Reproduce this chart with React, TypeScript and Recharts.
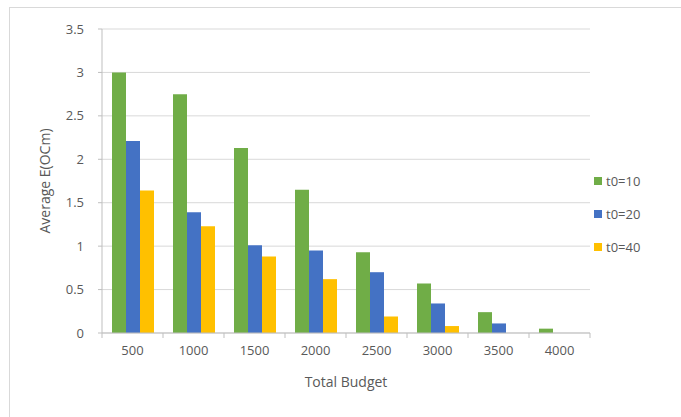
import { BarChart, Bar, XAxis, YAxis, CartesianGrid, Label } from 'recharts';

const budgets = ['500', '1000', '1500', '2000', '2500', '3000', '3500', '4000'];
const t10 = [3.0, 2.75, 2.13, 1.65, 0.93, 0.57, 0.24, 0.05];
const t20 = [2.21, 1.39, 1.01, 0.95, 0.7, 0.34, 0.11, 0];
const t40 = [1.64, 1.23, 0.88, 0.62, 0.19, 0.08, 0, 0];
const yTicks = [0, 0.5, 1, 1.5, 2, 2.5, 3, 3.5];

const seriesNames = ['t0=10', 't0=20', 't0=40'];
const colors = ['#70AD47', '#4472C4', '#FFC000'];

const data = budgets.map((b, i) => ({ budget: b, t10: t10[i], t20: t20[i], t40: t40[i] }));

const W = 681;
const H = 417;
const margin = { top: 29, right: 91, bottom: 54, left: 0 };
const yAxisWidth = 102;
const band = (W - margin.left - margin.right - yAxisWidth) / budgets.length;
const font = '"Open Sans", sans-serif';
const textColor = '#595959';

function XTick(props: any) {
  const { x, y, payload, index } = props;
  const left = x - band / 2;
  return (
    <g>
      <line x1={left} y1={y - 8} x2={left} y2={y - 3} stroke="#bfbfbf" />
      {index === budgets.length - 1 && (
        <line x1={left + band} y1={y - 8} x2={left + band} y2={y - 3} stroke="#bfbfbf" />
      )}
      <text x={x} y={y + 14} textAnchor="middle" fill={textColor} fontSize={13} fontFamily={font}>
        {payload.value}
      </text>
    </g>
  );
}

function LegendBox() {
  return (
    <div style={{ position: 'absolute', left: 594, top: 164, fontFamily: font, fontSize: 13, color: textColor }}>
      {seriesNames.map((n, i) => (
        <div key={n} style={{ display: 'flex', alignItems: 'center', height: 33 }}>
          <span style={{ width: 8, height: 8, background: colors[i], marginRight: 4, display: 'inline-block' }} />
          {n}
        </div>
      ))}
    </div>
  );
}

export default function App() {
  return (
    <div style={{ position: 'fixed', left: 0, top: 0, width: W, height: H, background: '#fff' }}>
      <div
        style={{
          position: 'absolute',
          left: 9,
          top: 7,
          right: 0,
          bottom: 0,
          borderTop: '1px solid #d9d9d9',
          borderLeft: '1px solid #d9d9d9',
        }}
      />
      <BarChart width={W} height={H} data={data} margin={margin} barGap={0} barCategoryGap={10}>
        <CartesianGrid vertical={false} stroke="#d9d9d9" />
        <XAxis
          dataKey="budget"
          tickLine={false}
          axisLine={{ stroke: '#bfbfbf' }}
          tick={<XTick />}
          interval={0}
        >
          <Label
            value="Total Budget"
            position="bottom"
            offset={14}
            style={{ fill: textColor, fontSize: 14, fontFamily: font }}
          />
        </XAxis>
        <YAxis
          width={yAxisWidth}
          domain={[0, 3.5]}
          ticks={yTicks}
          interval={0}
          axisLine={{ stroke: '#bfbfbf' }}
          tickLine={{ stroke: '#bfbfbf' }}
          tickSize={4}
          tickMargin={14}
          tick={{ fill: textColor, fontSize: 13, fontFamily: font }}
        >
          <Label
            value="Average E(OCm)"
            angle={-90}
            position="insideLeft"
            offset={45}
            style={{ fill: textColor, fontSize: 14, fontFamily: font, textAnchor: 'middle' }}
          />
        </YAxis>
        <Bar dataKey="t10" name={seriesNames[0]} fill={colors[0]} isAnimationActive={false} />
        <Bar dataKey="t20" name={seriesNames[1]} fill={colors[1]} isAnimationActive={false} />
        <Bar dataKey="t40" name={seriesNames[2]} fill={colors[2]} isAnimationActive={false} />
      </BarChart>
      <LegendBox />
    </div>
  );
}
